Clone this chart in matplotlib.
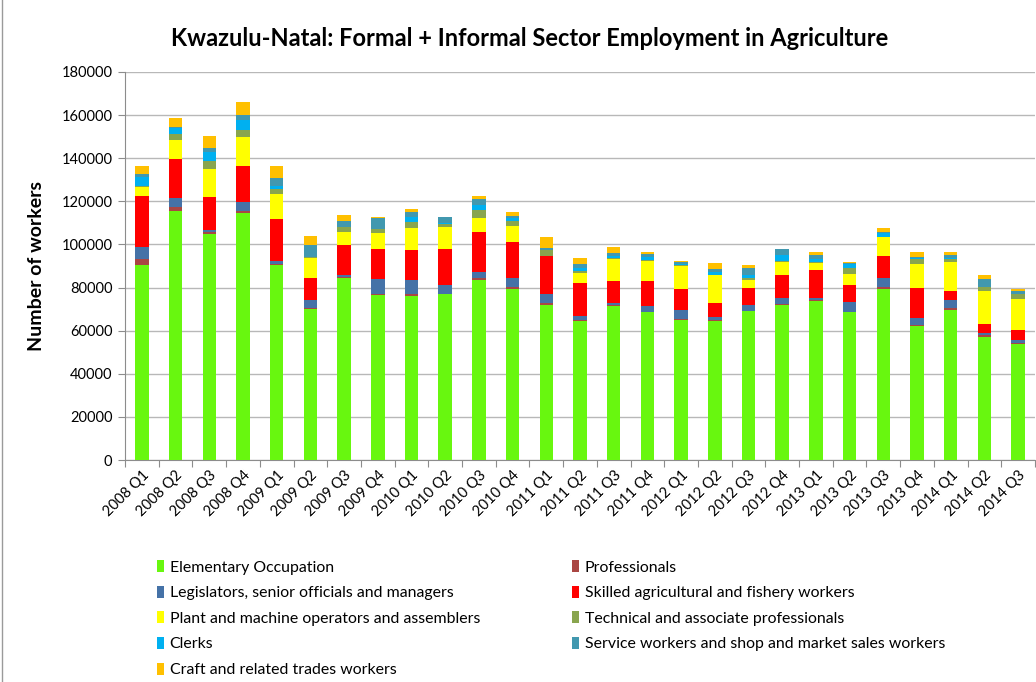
import matplotlib
matplotlib.use("Agg")
import matplotlib.pyplot as plt
from matplotlib.patches import Patch
from matplotlib.lines import Line2D
import numpy as np

plt.rcParams['font.family'] = ['Lato', 'DejaVu Sans']

quarters = ["2008 Q1", "2008 Q2", "2008 Q3", "2008 Q4", "2009 Q1", "2009 Q2", "2009 Q3",
            "2009 Q4", "2010 Q1", "2010 Q2", "2010 Q3", "2010 Q4", "2011 Q1", "2011 Q2",
            "2011 Q3", "2011 Q4", "2012 Q1", "2012 Q2", "2012 Q3", "2012 Q4", "2013 Q1",
            "2013 Q2", "2013 Q3", "2013 Q4", "2014 Q1", "2014 Q2", "2014 Q3"]

elementary = [90300, 115400, 104900, 114800, 90500, 70000, 84600, 76600, 76000, 76900, 83400, 79100,
              72100, 64500, 71500, 68600, 65000, 64700, 69000, 72100, 73700, 68600, 79400, 62100,
              69500, 57000, 53600]
professionals = [2900, 2100, 700, 900, 500, 300, 300, 200, 900, 300, 1100, 1100, 600, 300, 200, 200,
                 300, 300, 200, 200, 300, 200, 900, 700, 800, 1200, 600]
legislators = [5400, 3900, 1300, 4100, 1500, 4000, 1100, 7100, 6800, 4200, 2600, 4400, 4500, 1900,
               1300, 2500, 4200, 1200, 2900, 2700, 1200, 4700, 4300, 3300, 3700, 900, 1400]
skilled = [23700, 18400, 15100, 16400, 19500, 10300, 13700, 14000, 13600, 16500, 18700, 16400, 17300,
           15600, 9900, 11900, 9600, 6500, 7700, 11000, 13100, 7900, 9900, 13900, 4300, 3900, 4900]
plant = [4200, 8700, 12900, 13700, 11400, 9300, 6300, 7300, 10300, 10000, 6600, 7600, 200, 4300, 10500,
         9300, 11100, 12900, 3900, 5900, 3300, 4800, 8800, 10800, 13500, 15500, 14400]
technical = [600, 2800, 4000, 3200, 2200, 400, 2200, 2100, 2700, 1400, 3700, 2400, 2600, 1300, 300, 200,
             300, 300, 800, 300, 300, 3100, 300, 2500, 1400, 1800, 1900]
clerks = [4000, 2700, 4000, 4400, 1500, 0, 0, 0, 2400, 700, 2400, 1400, 0, 1200, 900, 1700, 500, 1200,
          1200, 2800, 1200, 1400, 1600, 600, 300, 0, 300]
service = [1400, 400, 1800, 2600, 3600, 5400, 2600, 5000, 2300, 2700, 2400, 800, 1100, 1700, 1600, 1200,
           700, 1500, 3400, 2700, 2000, 800, 400, 300, 1700, 3700, 1200]
craft = [4000, 4400, 5600, 6100, 5800, 4100, 2800, 300, 1400, 0, 1700, 1800, 4900, 2900, 2400, 1000, 500,
         3000, 1200, 0, 1200, 400, 2000, 2500, 1100, 1900, 1200]

series_names = ["Elementary Occupation", "Professionals", "Legislators, senior officials and managers",
                "Skilled agricultural and fishery workers", "Plant and machine operators and assemblers",
                "Technical and associate professionals", "Clerks",
                "Service workers and shop and market sales workers", "Craft and related trades workers"]
series_values = [elementary, professionals, legislators, skilled, plant, technical, clerks, service, craft]
colors = ['#68f70f', '#aa4643', '#4572a7', '#ff0000', '#ffff00', '#89a54e', '#00b0f0', '#4198af', '#ffc000']

fig = plt.figure(figsize=(10.36, 6.82), dpi=100)
ax = fig.add_axes([125/1036, 222/682, 910/1036, 388/682])

x = np.arange(len(quarters))
bottom = np.zeros(len(quarters))
for name, vals, c in zip(series_names, series_values, colors):
    ax.bar(x, vals, width=0.4, bottom=bottom, color=c, label=name, zorder=3, linewidth=0)
    bottom += np.array(vals)

ax.set_xlim(-0.5, len(quarters) - 0.5)
ax.set_ylim(0, 180000)
ax.set_yticks(np.arange(0, 180001, 20000))
ax.set_yticklabels([str(v) for v in range(0, 180001, 20000)], fontsize=10.5)
ax.yaxis.grid(True, color='#b8b8b8', linewidth=1, zorder=0)
ax.set_axisbelow(True)

# category ticks between bars
ax.set_xticks(np.arange(-0.5, len(quarters) + 0.5, 1))
ax.set_xticklabels([])
ax.set_xticks(x, minor=True)
ax.set_xticklabels(quarters, minor=True, rotation=45, ha='right', va='top',
                   rotation_mode='anchor', fontsize=10.5)
ax.tick_params(axis='x', which='minor', length=0, pad=6)
ax.tick_params(axis='x', which='major', length=5, color='#8c8c8c')
ax.tick_params(axis='y', length=5, color='#8c8c8c', pad=4)

for s in ['top', 'right']:
    ax.spines[s].set_visible(False)
for s in ['left', 'bottom']:
    ax.spines[s].set_color('#8c8c8c')

ax.set_ylabel("Number of workers", fontsize=14, fontweight='bold', labelpad=12)

fig.text(530/1036, 1 - 38/682, "Kwazulu-Natal: Formal + Informal Sector Employment in Agriculture",
         ha='center', va='center', fontsize=17, fontweight='bold')

handles = [Patch(facecolor=c, edgecolor='none') for c in colors]
col1 = [0, 2, 4, 6, 8]
col2 = [1, 3, 5, 7]
leg_kw = dict(frameon=False, fontsize=11.4, handlelength=0.45, handleheight=0.8,
              handletextpad=0.35, labelspacing=0.7, borderaxespad=0, borderpad=0)
leg1 = fig.legend([handles[i] for i in col1], [series_names[i] for i in col1],
                  loc='upper left', bbox_to_anchor=(157/1036, 1 - 560/682), **leg_kw)
leg2 = fig.legend([handles[i] for i in col2], [series_names[i] for i in col2],
                  loc='upper left', bbox_to_anchor=(572/1036, 1 - 560/682), **leg_kw)

# chart-area border on the left
fig.add_artist(Line2D([2/1036, 2/1036], [0, 1], transform=fig.transFigure, color='#9a9a9a', linewidth=1))

fig.savefig("out.png", dpi=100)
